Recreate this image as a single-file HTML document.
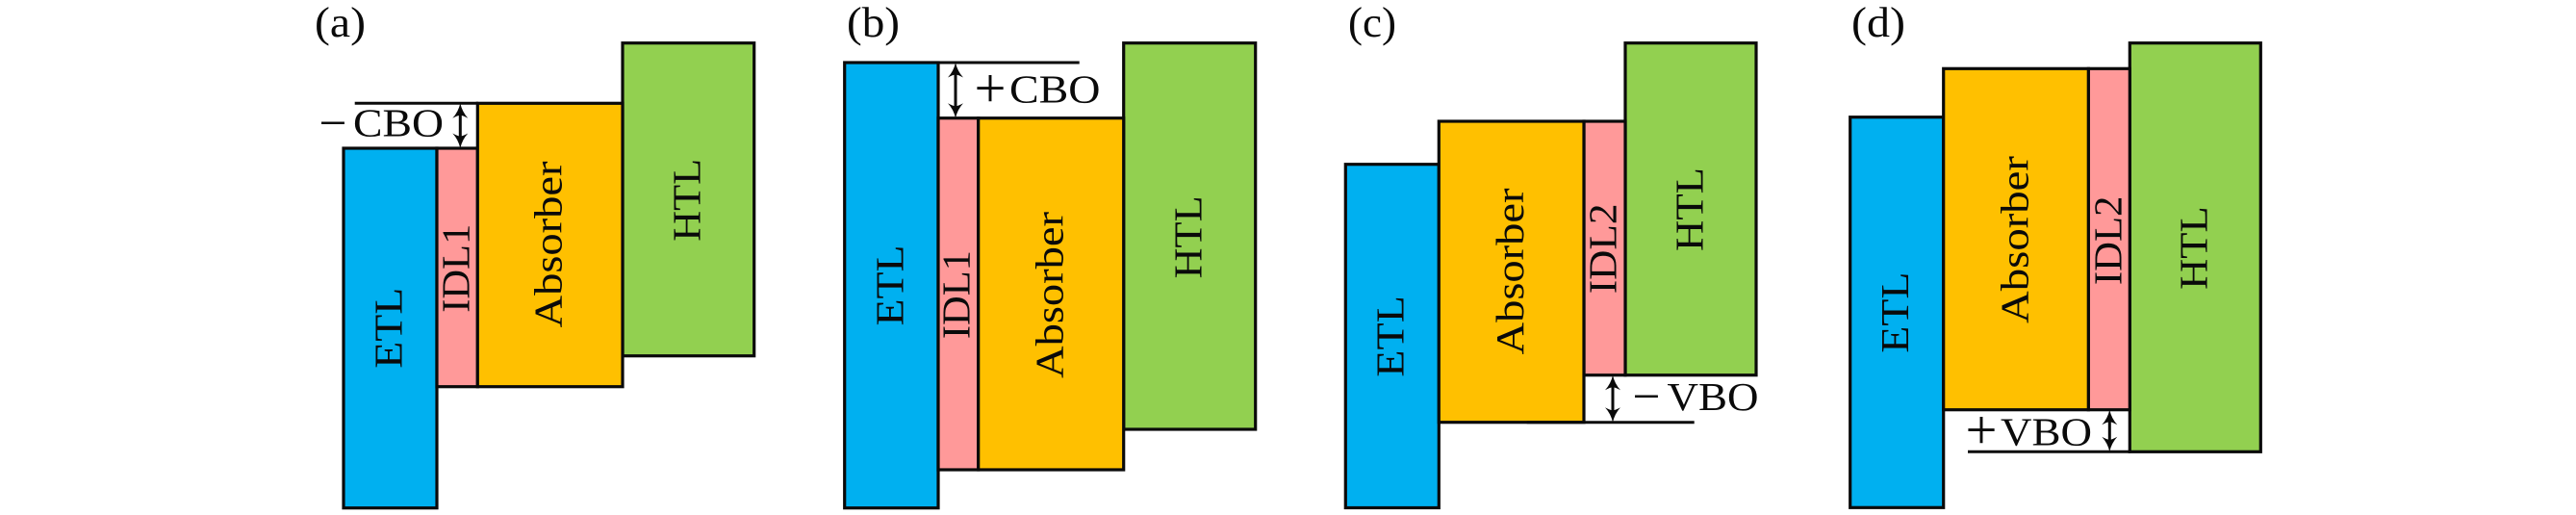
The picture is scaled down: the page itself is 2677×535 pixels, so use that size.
<!DOCTYPE html>
<html>
<head>
<meta charset="utf-8">
<style>
html,body{margin:0;padding:0;background:#fff}
svg{display:block}
text{font-family:"Liberation Serif",serif;font-size:41px;fill:#0a0a0a}
text.n{font-size:44px}
text.m{font-size:52px}
text.s{font-size:58px}
.b{fill:#00B0F0}.p{fill:#FF9999}.y{fill:#FFC000}.g{fill:#92D050}
rect{stroke:#0a0a0a;stroke-width:3.2}
.l{stroke:#0a0a0a;stroke-width:3;fill:none}
.a{stroke:#0a0a0a;stroke-width:3;fill:none}
.h{fill:#0a0a0a}
</style>
</head>
<body>
<svg width="2677" height="535" viewBox="0 0 2677 535" xmlns="http://www.w3.org/2000/svg">
<rect width="2677" height="535" style="fill:#fff;stroke:none"/>

<!-- a -->
<rect class="g" x="647" y="44.7" width="136.7" height="325"/>
<rect class="b" x="357" y="154" width="97" height="373.7"/>
<rect class="p" x="454" y="154" width="42.3" height="247.7"/>
<rect class="y" x="496.3" y="107.3" width="150.7" height="294.4"/>
<line class="l" x1="368.7" y1="107.3" x2="497" y2="107.3"/>
<line class="a" x1="478.3" y1="114" x2="478.3" y2="147"/>
<path class="h" d="M478.3 107.3 q2 9 8 15.5 q-5.5 -3 -8 -3 q-2.5 0 -8 3 q6 -6.5 8 -15.5z"/>
<path class="h" d="M478.3 154 q2 -9 8 -15.5 q-5.5 3 -8 3 q-2.5 0 -8 -3 q6 6.5 8 15.5z"/>
<text class="n" x="327" y="38" textLength="53" lengthAdjust="spacingAndGlyphs">(a)</text>
<text class="m" x="331.5" y="145" textLength="29" lengthAdjust="spacingAndGlyphs">−</text>
<text x="367" y="141.5" textLength="94" lengthAdjust="spacingAndGlyphs">CBO</text>
<text transform="translate(417.6 382.8) rotate(-90)" textLength="84" lengthAdjust="spacingAndGlyphs">ETL</text>
<text transform="translate(487.6 324.8) rotate(-90)" textLength="92" lengthAdjust="spacingAndGlyphs">IDL1</text>
<text transform="translate(583.6 340.5) rotate(-90)" textLength="173" lengthAdjust="spacingAndGlyphs">Absorber</text>
<text transform="translate(727.6 250.8) rotate(-90)" textLength="86" lengthAdjust="spacingAndGlyphs">HTL</text>

<!-- b -->
<rect class="g" x="1167.7" y="44.7" width="137" height="401.3"/>
<rect class="b" x="877.7" y="65" width="97.3" height="462.7"/>
<rect class="p" x="975" y="122.7" width="41.7" height="365.3"/>
<rect class="y" x="1016.7" y="122.7" width="151" height="365.3"/>
<line class="l" x1="975" y1="65" x2="1121.7" y2="65"/>
<line class="a" x1="993" y1="72" x2="993" y2="116"/>
<path class="h" d="M993 65 q2 9 8 15.5 q-5.5 -3 -8 -3 q-2.5 0 -8 3 q6 -6.5 8 -15.5z"/>
<path class="h" d="M993 122.7 q2 -9 8 -15.5 q-5.5 3 -8 3 q-2.5 0 -8 -3 q6 6.5 8 15.5z"/>
<text class="n" x="880" y="38" textLength="55" lengthAdjust="spacingAndGlyphs">(b)</text>
<text class="s" x="1012.5" y="111" textLength="33" lengthAdjust="spacingAndGlyphs">+</text>
<text x="1049" y="106.5" textLength="94.5" lengthAdjust="spacingAndGlyphs">CBO</text>
<text transform="translate(938.6 338.5) rotate(-90)" textLength="84" lengthAdjust="spacingAndGlyphs">ETL</text>
<text transform="translate(1007.6 352.1) rotate(-90)" textLength="92" lengthAdjust="spacingAndGlyphs">IDL1</text>
<text transform="translate(1104.6 393) rotate(-90)" textLength="173" lengthAdjust="spacingAndGlyphs">Absorber</text>
<text transform="translate(1248.6 289.4) rotate(-90)" textLength="86" lengthAdjust="spacingAndGlyphs">HTL</text>

<!-- c -->
<rect class="b" x="1398.3" y="170.7" width="97" height="356.8"/>
<rect class="g" x="1689" y="44.7" width="136" height="345"/>
<rect class="p" x="1646" y="126" width="43" height="263.7"/>
<rect class="y" x="1495.3" y="126" width="150.7" height="312.7"/>
<line class="l" x1="1586.7" y1="438.7" x2="1760.7" y2="438.7"/>
<line class="a" x1="1676" y1="396" x2="1676" y2="432"/>
<path class="h" d="M1676 389.7 q2 9 8 15.5 q-5.5 -3 -8 -3 q-2.5 0 -8 3 q6 -6.5 8 -15.5z"/>
<path class="h" d="M1676 438.7 q2 -9 8 -15.5 q-5.5 3 -8 3 q-2.5 0 -8 -3 q6 6.5 8 15.5z"/>
<text class="n" x="1401" y="38" textLength="50" lengthAdjust="spacingAndGlyphs">(c)</text>
<text class="m" x="1696.5" y="429" textLength="29" lengthAdjust="spacingAndGlyphs">−</text>
<text x="1732.5" y="426" textLength="95" lengthAdjust="spacingAndGlyphs">VBO</text>
<text transform="translate(1458.6 391.7) rotate(-90)" textLength="84.6" lengthAdjust="spacingAndGlyphs">ETL</text>
<text transform="translate(1583 368.5) rotate(-90)" textLength="173" lengthAdjust="spacingAndGlyphs">Absorber</text>
<text transform="translate(1679.6 305.3) rotate(-90)" textLength="93.8" lengthAdjust="spacingAndGlyphs">IDL2</text>
<text transform="translate(1769.6 261) rotate(-90)" textLength="87" lengthAdjust="spacingAndGlyphs">HTL</text>

<!-- d -->
<rect class="b" x="1922.7" y="121.7" width="97" height="405.6"/>
<rect class="g" x="2213.3" y="44.7" width="136" height="424.6"/>
<rect class="p" x="2170.3" y="71.3" width="43" height="354.4"/>
<rect class="y" x="2019.7" y="71.3" width="150.6" height="354.4"/>
<line class="l" x1="2045" y1="469.3" x2="2214" y2="469.3"/>
<line class="a" x1="2192.3" y1="432" x2="2192.3" y2="463"/>
<path class="h" d="M2192.3 425.7 q2 9 8 15.5 q-5.5 -3 -8 -3 q-2.5 0 -8 3 q6 -6.5 8 -15.5z"/>
<path class="h" d="M2192.3 469.3 q2 -9 8 -15.5 q-5.5 3 -8 3 q-2.5 0 -8 -3 q6 6.5 8 15.5z"/>
<text class="n" x="1924" y="38" textLength="56" lengthAdjust="spacingAndGlyphs">(d)</text>
<text class="s" x="2042.5" y="466" textLength="33" lengthAdjust="spacingAndGlyphs">+</text>
<text x="2079" y="462.5" textLength="95" lengthAdjust="spacingAndGlyphs">VBO</text>
<text transform="translate(1983 366.8) rotate(-90)" textLength="84.3" lengthAdjust="spacingAndGlyphs">ETL</text>
<text transform="translate(2107.6 336) rotate(-90)" textLength="174" lengthAdjust="spacingAndGlyphs">Absorber</text>
<text transform="translate(2204.6 296.1) rotate(-90)" textLength="92.5" lengthAdjust="spacingAndGlyphs">IDL2</text>
<text transform="translate(2293.6 300.9) rotate(-90)" textLength="86.7" lengthAdjust="spacingAndGlyphs">HTL</text>
</svg>
</body>
</html>
